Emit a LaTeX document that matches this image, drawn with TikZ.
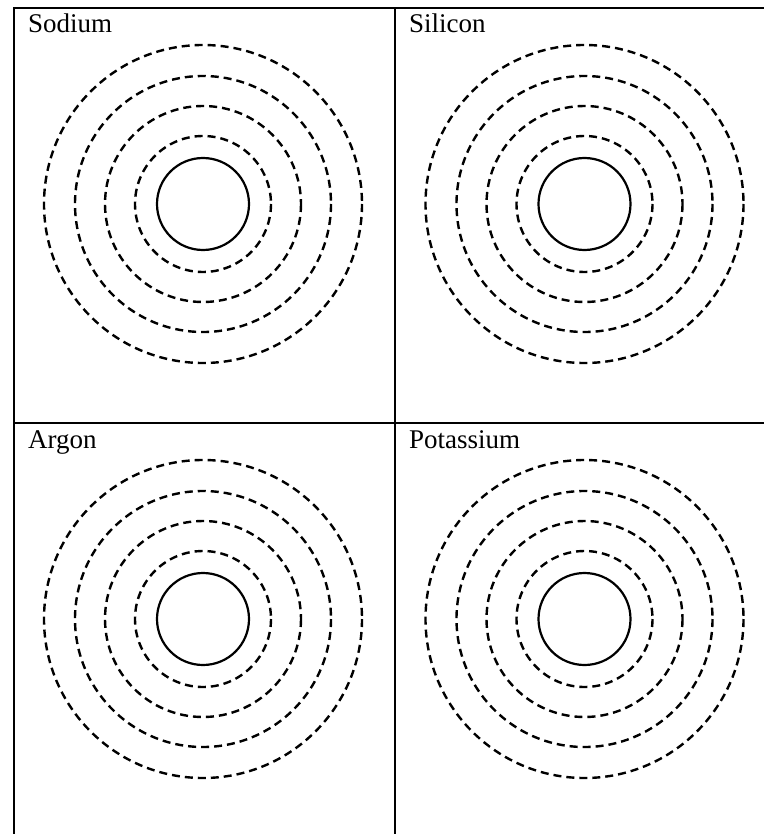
\documentclass[tikz,border=0pt]{standalone}
\usepackage{fontspec}
\setmainfont{Liberation Serif}
\begin{document}
\begin{tikzpicture}[x=1pt,y=-1pt,
  gridline/.style={line width=2.4pt,line cap=rect},
  shell/.style={line width=2.4pt,dash pattern=on 8pt off 5pt},
  nucleus/.style={line width=2.2pt},
  label/.style={anchor=base west,inner sep=0pt,font=\fontsize{27}{30}\selectfont}]
\useasboundingbox (0,0) rectangle (763,834);
\fill[white] (0,0) rectangle (763,834);
% table
\draw[gridline] (14,834) -- (14,8) -- (763,8);
\draw[gridline] (395,8) -- (395,834);
\draw[gridline] (14,423) -- (763,423);
% cells
\foreach \name/\cx/\cy/\tx/\ty in {Sodium/203/204/28/33, Silicon/584.5/204/409/33, Argon/203/619/28/448, Potassium/584.5/619/409/448}{
  \coordinate (c-\name) at (\cx,\cy);
  \node[label] (t-\name) at (\tx,\ty) {\name};
  \draw[nucleus] (c-\name) circle (46);
  \foreach \r in {68,98,128,159}{
    \draw[shell] (c-\name) circle (\r);
  }
}
\end{tikzpicture}
\end{document}
